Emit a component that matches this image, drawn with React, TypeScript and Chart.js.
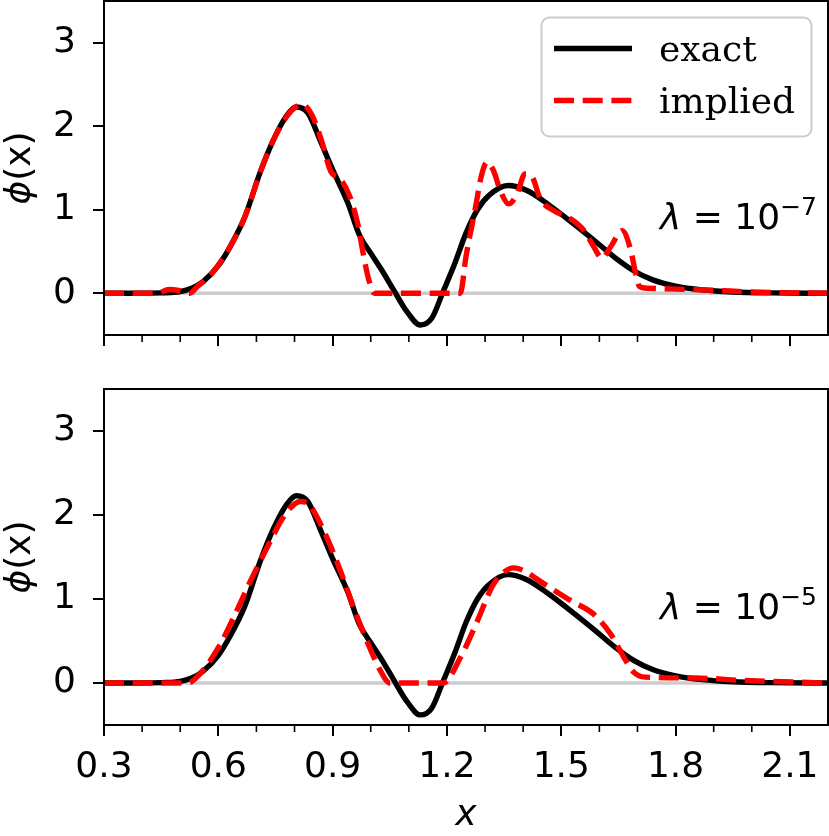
import { useEffect, useRef } from "react";
import { Chart, registerables, ChartConfiguration, Plugin } from "chart.js";

Chart.register(...registerables);

// axis ticks
const xMajorTicks = [0.3, 0.6, 0.9, 1.2, 1.5, 1.8, 2.1];
const xMinorTicks = [0.4, 0.5, 0.7, 0.8, 1.0, 1.1, 1.3, 1.4, 1.6, 1.7, 1.9, 2.0];
const yTicks = [0, 1, 2, 3];

// horizontal reference line at zero
const baselineX = [0.3, 2.2];
const baselineY = [0, 0];

// exact phi(x), same in both panels
const exactX = [0.30, 0.40, 0.45, 0.50, 0.53, 0.56, 0.60, 0.63, 0.67, 0.71, 0.745, 0.78, 0.805, 0.835, 0.87, 0.90, 0.94, 0.97, 1.00, 1.03, 1.06, 1.095, 1.13, 1.16, 1.19, 1.22, 1.25, 1.28, 1.31, 1.36, 1.41, 1.47, 1.53, 1.59, 1.64, 1.69, 1.74, 1.80, 1.87, 1.95, 2.05, 2.20];
const exactY = [0, 0, 0.005, 0.02, 0.06, 0.14, 0.33, 0.55, 0.92, 1.45, 1.84, 2.13, 2.23, 2.16, 1.80, 1.48, 1.08, 0.70, 0.48, 0.27, 0.04, -0.22, -0.38, -0.30, 0.02, 0.35, 0.72, 1.00, 1.17, 1.29, 1.23, 1.05, 0.84, 0.62, 0.43, 0.27, 0.16, 0.085, 0.04, 0.015, 0.004, 0];

// implied, lambda = 1e-7
const impliedTopX = [0.30, 0.44, 0.47, 0.50, 0.525, 0.545, 0.58, 0.63, 0.67, 0.71, 0.745, 0.78, 0.80, 0.82, 0.845, 0.87, 0.895, 0.92, 0.945, 0.965, 0.98, 0.995, 1.01, 1.235, 1.25, 1.275, 1.29, 1.305, 1.322, 1.34, 1.362, 1.384, 1.405, 1.424, 1.445, 1.48, 1.525, 1.56, 1.585, 1.607, 1.63, 1.66, 1.682, 1.695, 1.705, 1.725, 1.80, 1.90, 2.00, 2.20];
const impliedTopY = [0, 0, 0.045, 0.03, 0.0, 0.08, 0.22, 0.55, 0.92, 1.45, 1.84, 2.12, 2.22, 2.26, 2.14, 1.84, 1.46, 1.37, 1.16, 0.85, 0.48, 0.16, 0.0, 0.0, 0.44, 1.03, 1.40, 1.57, 1.47, 1.23, 1.07, 1.19, 1.43, 1.39, 1.13, 0.99, 0.89, 0.75, 0.56, 0.42, 0.56, 0.75, 0.52, 0.24, 0.08, 0.06, 0.05, 0.035, 0.015, 0];

// implied, lambda = 1e-5
const impliedBotX = [0.30, 0.52, 0.55, 0.60, 0.64, 0.685, 0.73, 0.77, 0.80, 0.815, 0.835, 0.85, 0.885, 0.92, 0.955, 0.99, 1.025, 1.05, 1.19, 1.235, 1.28, 1.32, 1.35, 1.375, 1.40, 1.455, 1.525, 1.585, 1.63, 1.665, 1.69, 1.72, 1.85, 1.98, 2.20];
const impliedBotY = [0, 0, 0.1, 0.42, 0.78, 1.22, 1.63, 1.97, 2.13, 2.16, 2.14, 2.05, 1.73, 1.34, 0.90, 0.50, 0.15, 0.0, 0.0, 0.3, 0.74, 1.16, 1.32, 1.37, 1.34, 1.18, 0.98, 0.82, 0.58, 0.30, 0.13, 0.07, 0.06, 0.03, 0];

const SANS = "'DejaVu Sans', sans-serif";
const SERIF = "'DejaVu Serif', serif";
const LW = 5.4;
const DASH = [20, 8.7];

const pts = (xs: number[], ys: number[]) => xs.map((x, i) => ({ x, y: ys[i] }));

interface PanelProps {
  impliedX: number[];
  impliedY: number[];
  exponent: string;
  showXLabels: boolean;
  showLegend: boolean;
  top: number;
  height: number;
  padTop: number;
  xAxisHeight: number;
}

function PhiPanel(props: PanelProps) {
  const { impliedX, impliedY, exponent, showXLabels, showLegend, top, height, padTop, xAxisHeight } = props;
  const chartRef = useRef<HTMLCanvasElement | null>(null);

  useEffect(() => {
    if (!chartRef.current) return;

    const frame: Plugin = {
      id: "frame",
      afterDraw(chart) {
        const { ctx, chartArea, scales } = chart;
        ctx.save();
        ctx.strokeStyle = "#000";
        ctx.lineWidth = 1.6;
        ctx.beginPath();
        xMinorTicks.forEach((v) => {
          const px = scales.x.getPixelForValue(v);
          ctx.moveTo(px, chartArea.bottom);
          ctx.lineTo(px, chartArea.bottom + 7);
        });
        ctx.stroke();
        ctx.lineWidth = 2;
        ctx.strokeRect(chartArea.left, chartArea.top, chartArea.right - chartArea.left, chartArea.bottom - chartArea.top);

        // y axis title: italic phi, upright (x)
        const cy = (chartArea.top + chartArea.bottom) / 2;
        ctx.translate(21, cy);
        ctx.rotate(-Math.PI / 2);
        ctx.fillStyle = "#000";
        ctx.textBaseline = "middle";
        ctx.font = `italic 36px ${SANS}`;
        const w1 = ctx.measureText("ϕ").width;
        ctx.font = `36px ${SANS}`;
        const w2 = ctx.measureText("(x)").width;
        let x = -(w1 + w2) / 2;
        ctx.font = `italic 36px ${SANS}`;
        ctx.fillText("ϕ", x, 0);
        x += w1;
        ctx.font = `36px ${SANS}`;
        ctx.fillText("(x)", x, 0);
        ctx.restore();
      },
    };

    const lambdaLabel: Plugin = {
      id: "lambdaLabel",
      afterDatasetsDraw(chart) {
        const { ctx, chartArea } = chart;
        const parts = [
          { t: "λ", font: `italic 36px ${SANS}`, rise: 0 },
          { t: " = 10", font: `36px ${SANS}`, rise: 0 },
          { t: "\u2212" + exponent, font: `25px ${SANS}`, rise: 14 },
        ];
        ctx.save();
        ctx.fillStyle = "#000";
        ctx.textBaseline = "alphabetic";
        let w = 0;
        parts.forEach((p) => {
          ctx.font = p.font;
          w += ctx.measureText(p.t).width;
        });
        let x = chartArea.right - 11 - w;
        const y = chartArea.top + 0.684 * (chartArea.bottom - chartArea.top);
        parts.forEach((p) => {
          ctx.font = p.font;
          ctx.fillText(p.t, x, y - p.rise);
          x += ctx.measureText(p.t).width;
        });
        ctx.restore();
      },
    };

    const boxLegend: Plugin = {
      id: "boxLegend",
      afterDraw(chart) {
        if (!showLegend) return;
        const { ctx, chartArea } = chart;
        const right = chartArea.right - 16.5;
        const boxTop = chartArea.top + 16.5;
        const boxW = 270;
        const boxH = 119;
        ctx.save();
        ctx.beginPath();
        ctx.roundRect(right - boxW, boxTop, boxW, boxH, 8);
        ctx.fillStyle = "rgba(255,255,255,0.8)";
        ctx.fill();
        ctx.strokeStyle = "#cccccc";
        ctx.lineWidth = 2;
        ctx.stroke();
        const entries = chart.data.datasets.filter((d) => d.label);
        entries.forEach((d, i) => {
          const y = boxTop + 31 + i * 52;
          ctx.beginPath();
          ctx.strokeStyle = d.borderColor as string;
          ctx.lineWidth = LW;
          ctx.lineCap = "butt";
          ctx.setLineDash(((d as any).borderDash as number[]) || []);
          ctx.moveTo(right - boxW + 12.5, y);
          ctx.lineTo(right - boxW + 90.5, y);
          ctx.stroke();
          ctx.setLineDash([]);
          ctx.fillStyle = "#000";
          ctx.font = `36px ${SERIF}`;
          ctx.textBaseline = "alphabetic";
          ctx.fillText(d.label as string, right - boxW + 117.5, y + 12.5);
        });
        ctx.restore();
      },
    };

    const config: ChartConfiguration = {
      type: "line",
      data: {
        datasets: [
          {
            label: "exact",
            data: pts(exactX, exactY),
            borderColor: "#000000",
            borderWidth: LW,
            borderCapStyle: "butt",
            cubicInterpolationMode: "monotone",
            order: 1,
          },
          {
            label: "implied",
            data: pts(impliedX, impliedY),
            borderColor: "#ff0000",
            borderWidth: LW,
            borderDash: DASH,
            borderCapStyle: "butt",
            cubicInterpolationMode: "monotone",
            order: 0,
          },
          {
            label: "",
            data: pts(baselineX, baselineY),
            borderColor: "#cccccc",
            borderWidth: 3.5,
            order: 2,
          },
        ],
      },
      options: {
        animation: false,
        responsive: false,
        events: [],
        layout: { padding: { top: padTop, right: 1, left: 0, bottom: 0 } },
        elements: { point: { radius: 0 }, line: { borderJoinStyle: "round" } },
        plugins: { legend: { display: false }, tooltip: { enabled: false } },
        scales: {
          x: {
            type: "linear",
            min: 0.3,
            max: 2.2,
            afterBuildTicks: (scale) => {
              scale.ticks = xMajorTicks.map((v) => ({ value: v }));
            },
            afterFit: (scale: any) => {
              scale.height = xAxisHeight;
              scale.paddingLeft = 0;
              scale.paddingRight = 0;
            },
            ticks: {
              display: showXLabels,
              autoSkip: false,
              maxRotation: 0,
              padding: 10,
              color: "#000",
              font: { family: SANS, size: 36 },
              callback: (v) => Number(v).toFixed(1),
            },
            grid: { drawOnChartArea: false, drawTicks: true, tickLength: 11, color: "#000", lineWidth: 2 },
            border: { display: true, color: "#000", width: 2 },
            title: {
              display: showXLabels,
              text: "x",
              color: "#000",
              font: { family: SANS, size: 36, style: "italic", lineHeight: 1 },
              padding: { top: 0, bottom: 2 },
            },
          },
          y: {
            type: "linear",
            min: -0.5,
            max: 3.5,
            afterBuildTicks: (scale) => {
              scale.ticks = yTicks.map((v) => ({ value: v }));
            },
            afterFit: (scale: any) => {
              scale.width = 104;
              scale.paddingTop = 0;
              scale.paddingBottom = 0;
            },
            ticks: {
              padding: 17,
              color: "#000",
              font: { family: SANS, size: 36 },
              callback: (v) => String(v),
            },
            grid: { drawOnChartArea: false, drawTicks: true, tickLength: 11, color: "#000", lineWidth: 2 },
            border: { display: true, color: "#000", width: 2 },
          },
        },
      },
      plugins: [frame, lambdaLabel, boxLegend],
    };

    const chart = new Chart(chartRef.current, config);
    return () => {
      chart.destroy();
    };
  }, [impliedX, impliedY, exponent, showXLabels, showLegend, padTop, xAxisHeight]);

  return (
    <canvas
      ref={chartRef}
      width={829}
      height={height}
      style={{ position: "absolute", left: 0, top, width: 829, height, display: "block" }}
    ></canvas>
  );
}

export default function App() {
  return (
    <div style={{ position: "absolute", left: 0, top: 0, width: 829, height: 836, background: "#fff", overflow: "hidden" }}>
      <PhiPanel
        impliedX={impliedTopX}
        impliedY={impliedTopY}
        exponent="7"
        showXLabels={false}
        showLegend={true}
        top={0}
        height={360}
        padTop={1}
        xAxisHeight={25}
      />
      <PhiPanel
        impliedX={impliedBotX}
        impliedY={impliedBotY}
        exponent="5"
        showXLabels={true}
        showLegend={false}
        top={360}
        height={476}
        padTop={29}
        xAxisHeight={111}
      />
    </div>
  );
}
